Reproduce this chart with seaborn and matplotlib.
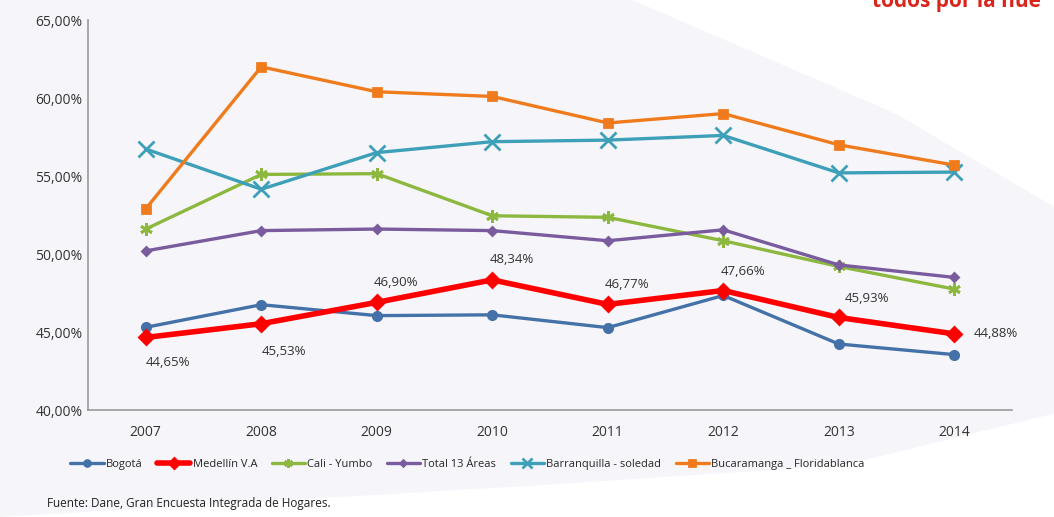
import numpy as np
import pandas as pd
import matplotlib
matplotlib.use("Agg")
import matplotlib.pyplot as plt
from matplotlib.ticker import FuncFormatter
from matplotlib.patches import Polygon
import seaborn as sns

years = [2007, 2008, 2009, 2010, 2011, 2012, 2013, 2014]

bogota = [45.30, 46.75, 46.05, 46.10, 45.28, 47.34, 44.23, 43.55]
medellin = [44.65, 45.53, 46.90, 48.34, 46.77, 47.66, 45.93, 44.88]
cali = [51.60, 55.10, 55.15, 52.45, 52.35, 50.85, 49.20, 47.75]
total13 = [50.20, 51.50, 51.60, 51.50, 50.85, 51.55, 49.30, 48.50]
barranquilla = [56.73, 54.15, 56.50, 57.20, 57.30, 57.60, 55.20, 55.25]
bucaramanga = [52.90, 62.00, 60.40, 60.10, 58.40, 59.00, 57.00, 55.70]

series_names = ["Bogotá", "Medellín V.A", "Cali - Yumbo", "Total 13 Áreas",
                "Barranquilla - soledad", "Bucaramanga _ Floridablanca"]
series_values = [bogota, medellin, cali, total13, barranquilla, bucaramanga]

colors = ["#4472a8", "#ff0000", "#8db83f", "#7a5b9e", "#3ea0b8", "#f07b1d"]
markers = ["o", "D", (6, 2, 0), "D", "x", "s"]
msizes = [6, 7, 9, 4, 11, 6]
lwidths = [2.4, 4.0, 2.4, 2.4, 2.4, 2.4]

medellin_labels = ["44,65%", "45,53%", "46,90%", "48,34%", "46,77%", "47,66%", "45,93%", "44,88%"]
# label offsets in points (dx, dy)
label_offsets = [(16, -18), (16, -20), (14, 14), (14, 15), (14, 14), (14, 14), (20, 14), (30, 0)]

df = pd.DataFrame({
    "year": np.tile(years, len(series_names)),
    "serie": np.repeat(series_names, len(years)),
    "valor": np.concatenate(series_values),
})

sns.set_style("white")
plt.rcParams["font.family"] = ["Open Sans", "DejaVu Sans"]

fig = plt.figure(figsize=(10.54, 5.17), dpi=100)
fig.patch.set_facecolor("#f6f6fa")

# white swoosh in the background
bg = fig.add_axes([0, 0, 1, 1], zorder=-10)
bg.set_xlim(0, 1)
bg.set_ylim(0, 1)
bg.axis("off")
bg.add_patch(Polygon([(0.6, 1.0), (1.0, 1.0), (1.0, 0.6), (0.85, 0.78)],
                     closed=True, facecolor="white", edgecolor="none"))
bg.add_patch(Polygon([(0.0, 0.0), (1.0, 0.0), (1.0, 0.2), (0.8, 0.1), (0.5, 0.06)],
                     closed=True, facecolor="white", edgecolor="none"))

ax = fig.add_axes([88 / 1054, 107 / 517, 924 / 1054, 390 / 517])
ax.set_facecolor("none")

for name, c, m, ms, lw in zip(series_names, colors, markers, msizes, lwidths):
    sub = df[df["serie"] == name]
    sns.lineplot(data=sub, x="year", y="valor", ax=ax, color=c, marker=m,
                 markersize=ms, linewidth=lw, markeredgecolor=c, markeredgewidth=2,
                 label=name, zorder=3 if name.startswith("Medell") else 2)

for x, y, t, (dx, dy) in zip(years, medellin, medellin_labels, label_offsets):
    ax.annotate(t, (x, y), xytext=(dx, dy), textcoords="offset points",
                ha="center", va="center", fontsize=9.5, color="#333333")

ax.set_xlim(2006.5, 2014.5)
ax.set_ylim(40, 65)
ax.set_yticks([40, 45, 50, 55, 60, 65])
ax.yaxis.set_major_formatter(FuncFormatter(lambda v, p: f"{v:.2f}%".replace(".", ",")))
ax.set_xticks(years)
ax.tick_params(axis="both", labelsize=10, colors="#333333", length=0)
ax.tick_params(axis="x", pad=11)
ax.tick_params(axis="y", pad=4)
ax.set_xlabel("")
ax.set_ylabel("")
for side in ["top", "right"]:
    ax.spines[side].set_visible(False)
for side in ["left", "bottom"]:
    ax.spines[side].set_color("#9a9a9a")
    ax.spines[side].set_linewidth(1.2)

ax.legend(loc="upper left", bbox_to_anchor=(-0.03, -0.1), ncol=6, frameon=False,
          fontsize=8, handlelength=3, columnspacing=1.3, handletextpad=0.2,
          markerscale=0.7)

fig.text(47 / 1054, 1 - 503 / 517, "Fuente: Dane, Gran Encuesta Integrada de Hogares.",
         fontsize=8.5, color="#222222", va="center")
fig.text(872 / 1054, 0.997, "todos por la nue", fontsize=15, color="#d9261c",
         fontweight="bold", va="center")

fig.savefig("out.png", dpi=100, facecolor=fig.get_facecolor())
